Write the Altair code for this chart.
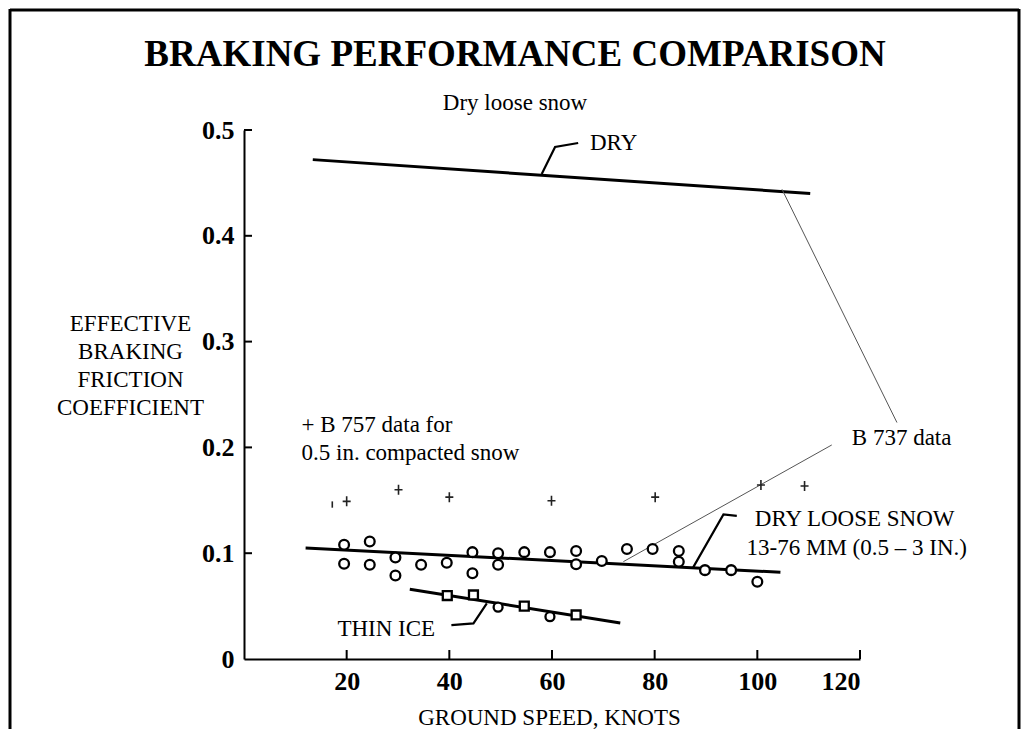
import altair as alt
import pandas as pd

FONT = "Liberation Serif"

# ---- data ----
# fitted curves (knots, coefficient)
dry_x = [13.4, 110.3]
dry_y = [0.472, 0.440]
snow_x = [12.0, 104.5]
snow_y = [0.105, 0.082]
ice_x = [32.3, 73.3]
ice_y = [0.066, 0.034]

# B 737 data, dry loose snow (open circles)
circ_x = [19.5, 19.5, 24.5, 24.5, 29.5, 29.5, 34.5, 39.5, 44.5, 44.5, 49.5, 49.5,
          54.6, 59.6, 64.7, 64.7, 69.7, 74.6, 79.6, 84.7, 84.7, 89.8, 94.9, 100.0]
circ_y = [0.108, 0.090, 0.111, 0.089, 0.096, 0.079, 0.089, 0.091, 0.101, 0.081, 0.100, 0.089,
          0.101, 0.101, 0.102, 0.0895, 0.0926, 0.104, 0.104, 0.102, 0.092, 0.084, 0.084, 0.073]

# thin ice points
icep_x = [39.6, 44.7, 49.5, 54.6, 59.6, 64.7]
icep_y = [0.060, 0.0605, 0.049, 0.050, 0.040, 0.0416]
icep_shape = ["square", "square", "circle", "square", "circle", "square"]

# B 757 data, compacted snow (crosses)
cross_x = [20.0, 30.1, 40.0, 59.9, 80.1, 100.7, 109.2]
cross_y = [0.149, 0.160, 0.153, 0.1496, 0.153, 0.1645, 0.1635]
stray_x = [17.2]
stray_y = [0.146]

# pointer lines from "B 737 data"
ptr1_x = [127.2, 104.8]
ptr1_y = [0.2235, 0.444]
ptr2_x = [114.5, 73.9]
ptr2_y = [0.2023, 0.092]

# label leaders
lead_dry_x = [58.0, 60.6, 65.1]
lead_dry_y = [0.4584, 0.484, 0.4877]
lead_snow_x = [87.5, 93.4, 96.0]
lead_snow_y = [0.0866, 0.1366, 0.1353]
lead_ice_x = [47.3, 44.7, 40.4]
lead_ice_y = [0.0526, 0.0337, 0.0321]

# annotations
ann_text = ["DRY", "B 737 data", "+ B 757 data for", "0.5 in. compacted snow",
            "DRY LOOSE SNOW", "13-76 MM (0.5 \u2013 3 IN.)", "THIN ICE"]
ann_x = [67.4, 118.4, 11.2, 11.2, 99.5, 97.9, 18.2]
ann_y = [0.4877, 0.2086, 0.2215, 0.1944, 0.132, 0.1046, 0.0284]

x_ticks = [20, 40, 60, 80, 100, 120]
y_ticks = [0, 0.1, 0.2, 0.3, 0.4, 0.5]

TITLE = "BRAKING PERFORMANCE COMPARISON"
SUBTITLE = "Dry loose snow"

W, H = 616, 529
PAD = {"left": 236, "top": 122, "right": 161, "bottom": 70}

# ---- tables ----
def line_df(name, xs, ys):
    return pd.DataFrame({"s": name, "x": xs, "y": ys, "o": list(range(len(xs)))})

thick = pd.concat([line_df("dry", dry_x, dry_y), line_df("snow", snow_x, snow_y),
                   line_df("ice", ice_x, ice_y)])
leaders = pd.concat([line_df("ld", lead_dry_x, lead_dry_y), line_df("ls", lead_snow_x, lead_snow_y),
                     line_df("li", lead_ice_x, lead_ice_y)])
pointers = pd.concat([line_df("p1", ptr1_x, ptr1_y), line_df("p2", ptr2_x, ptr2_y)])
circles = pd.DataFrame({"x": circ_x, "y": circ_y})
icepts = pd.DataFrame({"x": icep_x, "y": icep_y, "shape": icep_shape})
crosses = pd.DataFrame({"x": cross_x, "y": cross_y})
stray = pd.DataFrame({"x": stray_x, "y": stray_y})
ann = pd.DataFrame({"x": ann_x, "y": ann_y, "t": ann_text})
xt = pd.DataFrame({"x": x_ticks})
yt = pd.DataFrame({"y": y_ticks[1:]})

xscale = alt.Scale(domain=[0, 120], nice=False, zero=False)
yscale = alt.Scale(domain=[0, 0.5], nice=False, zero=False)

X = alt.X("x:Q", scale=xscale, axis=alt.Axis(
    values=x_ticks, format="d", tickSize=0, grid=False, domainColor="black", domainWidth=2,
    labelFont=FONT, labelFontWeight="bold", labelFontSize=26, labelColor="black", labelPadding=9,
    title="GROUND SPEED, KNOTS", titleFont=FONT, titleFontWeight="normal", titleFontSize=23,
    titleColor="black", titleBaseline="middle", titleY=58, titleX=305))
Y = alt.Y("y:Q", scale=yscale, axis=alt.Axis(
    values=y_ticks, labelExpr="datum.value == 0 ? '0' : format(datum.value, '.1f')",
    tickSize=0, grid=False, domainColor="black", domainWidth=2,
    labelFont=FONT, labelFontWeight="bold", labelFontSize=26, labelColor="black", labelPadding=10,
    title=["EFFECTIVE", "BRAKING", "FRICTION", "COEFFICIENT"], titleAngle=0, titleAlign="center",
    titleBaseline="middle", titleX=-114, titleY=193, titleLineHeight=28.3, titleFont=FONT,
    titleFontWeight="normal", titleFontSize=23, titleColor="black"))

base_x = alt.X("x:Q", scale=xscale)
base_y = alt.Y("y:Q", scale=yscale)

thick_l = alt.Chart(thick).mark_line(color="black", strokeWidth=3).encode(
    x=X, y=Y, detail="s:N", order="o:Q")
lead_l = alt.Chart(leaders).mark_line(color="black", strokeWidth=2.2).encode(
    x=base_x, y=base_y, detail="s:N", order="o:Q")
ptr_l = alt.Chart(pointers).mark_line(color="#555555", strokeWidth=1).encode(
    x=base_x, y=base_y, detail="s:N", order="o:Q")
circ_m = alt.Chart(circles).mark_point(shape="circle", filled=False, fill="white", fillOpacity=1,
                                       color="black", strokeWidth=2.3, size=95, opacity=1).encode(
    x=base_x, y=base_y)
ice_m = alt.Chart(icepts).mark_point(filled=False, fill="white", fillOpacity=1, color="black",
                                     strokeWidth=2.3, size=80, opacity=1).encode(
    x=base_x, y=base_y, shape=alt.Shape("shape:N", scale=None))
cross_m = alt.Chart(crosses).mark_point(shape="M-0.8,0L0.8,0M0,-1L0,1", filled=False, color="#222222",
                                        strokeWidth=1.6, size=100, opacity=1).encode(
    x=base_x, y=base_y)
stray_m = alt.Chart(stray).mark_point(shape="M0,-1L0,1", filled=False, color="#222222",
                                      strokeWidth=1.6, size=40, opacity=1).encode(
    x=base_x, y=base_y)
ann_t = alt.Chart(ann).mark_text(align="left", baseline="middle", font=FONT, fontSize=23,
                                 color="black").encode(x=base_x, y=base_y, text="t:N")

# inward axis ticks
xtick_r = alt.Chart(xt).mark_rule(color="black", strokeWidth=2).encode(
    x=base_x, y=alt.value(H), y2=alt.value(H - 9))
ytick_r = alt.Chart(yt).mark_rule(color="black", strokeWidth=2).encode(
    y=base_y, x=alt.value(0), x2=alt.value(8))

# title texts
titles = pd.DataFrame({"t": [TITLE, SUBTITLE], "k": ["a", "b"]})
title_t = alt.Chart(titles).transform_filter("datum.k == 'a'").mark_text(
    align="center", baseline="middle", font=FONT, fontSize=37, fontWeight="bold", color="black").encode(
    text="t:N", x=alt.value(271), y=alt.value(-75))
sub_t = alt.Chart(titles).transform_filter("datum.k == 'b'").mark_text(
    align="center", baseline="middle", font=FONT, fontSize=23, color="black").encode(
    text="t:N", x=alt.value(271), y=alt.value(-27))

# page frame
one = pd.DataFrame({"k": [1]})
frame_l = alt.Chart(one).mark_rule(color="black", strokeWidth=3).encode(
    x=alt.value(-234), y=alt.value(-121), y2=alt.value(H + PAD["bottom"]))
frame_r = alt.Chart(one).mark_rule(color="black", strokeWidth=3).encode(
    x=alt.value(775), y=alt.value(-121), y2=alt.value(H + PAD["bottom"]))
frame_t = alt.Chart(one).mark_rule(color="black", strokeWidth=3).encode(
    x=alt.value(-234), x2=alt.value(775), y=alt.value(-120))

chart = alt.layer(
    thick_l, lead_l, ptr_l, circ_m, ice_m, cross_m, stray_m, ann_t,
    xtick_r, ytick_r, title_t, sub_t, frame_l, frame_r, frame_t
).properties(
    width=W, height=H, padding=PAD, autosize=alt.AutoSizeParams(type="none"), background="white"
).configure_view(stroke=None)

chart.save("out.html", embed_options={"renderer": "svg", "actions": False})
